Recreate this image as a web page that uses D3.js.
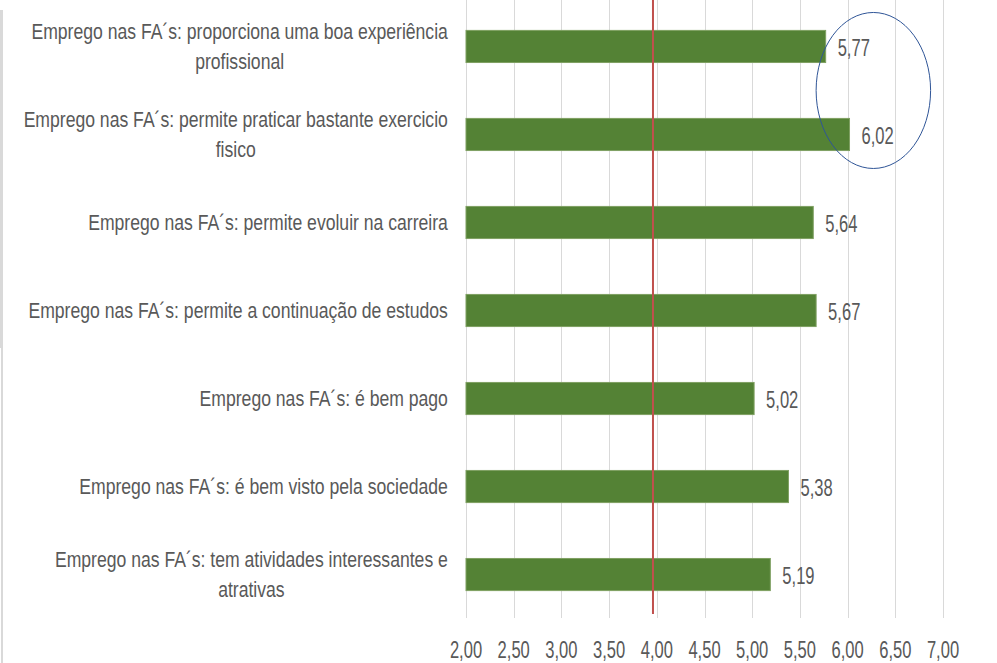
<!DOCTYPE html>
<meta charset="utf-8">
<style>
body { margin: 0; background: #fff; }
text { font-family: "Liberation Sans", Arial, sans-serif; fill: #595959; }
</style>
<svg width="997" height="663"></svg>
<script src="https://d3js.org/d3.v7.min.js"></script>
<script>

// data, top to bottom as in the chart
var categories = [
  ["Emprego nas FA\u00B4s: proporciona uma boa experiência", "profissional"],
  ["Emprego nas FA\u00B4s: permite praticar bastante exercicio", "fisico"],
  ["Emprego nas FA\u00B4s: permite evoluir na carreira"],
  ["Emprego nas FA\u00B4s: permite a continuação de estudos"],
  ["Emprego nas FA\u00B4s: é bem pago"],
  ["Emprego nas FA\u00B4s: é bem visto pela sociedade"],
  ["Emprego nas FA\u00B4s: tem atividades interessantes e", "atrativas"]
];
var values = [5.77, 6.02, 5.64, 5.67, 5.02, 5.38, 5.19];
var ticks = [2, 2.5, 3, 3.5, 4, 4.5, 5, 5.5, 6, 6.5, 7];
var refValue = 3.96;        // hand drawn red line, sits just left of 4,00
var ellipseCenter = 6.27;   // blue ellipse round the two top values

var svg = d3.select("svg"),
    left = 466, right = 943, top = 10, bottom = 618;

var fmt = function(v) { return d3.format(".2f")(v).replace(".", ","); };

// no narrow font installed, so squeeze the text horizontally (Calibri look)
function put(sel, k, fx, fy) {
  sel.attr("transform", function(d, i) {
    return "translate(" + fx(d, i) + "," + fy(d, i) + ") scale(" + k + ",1)";
  });
}

var x = d3.scaleLinear().domain([2, 7]).range([left, right]);
var y = d3.scaleBand()
    .domain(d3.range(categories.length))
    .range([4, 617])
    .paddingInner(0.635)
    .paddingOuter(0.3);

// grey strip on the left edge of the screenshot
svg.append("rect").attr("x", 0).attr("y", 10).attr("width", 3).attr("height", 338).attr("fill", "#d9d9d9");
svg.append("rect").attr("x", 1).attr("y", 348).attr("width", 2).attr("height", 315).attr("fill", "#d9d9d9");

// gridlines
svg.append("g")
  .selectAll("line")
  .data(ticks)
  .enter().append("line")
    .attr("x1", function(d) { return Math.round(x(d)) + 0.5; })
    .attr("x2", function(d) { return Math.round(x(d)) + 0.5; })
    .attr("y1", top)
    .attr("y2", bottom)
    .attr("stroke", "#d9d9d9")
    .attr("stroke-width", 1);

// tick labels
var tl = svg.append("g")
  .selectAll("text")
  .data(ticks)
  .enter().append("text")
    .attr("dy", "0.35em")
    .attr("text-anchor", "middle")
    .attr("font-size", 23)
    .text(fmt);
put(tl, 0.72, function(d) { return x(d); }, function() { return 650; });

// bars
svg.append("g")
  .selectAll("rect")
  .data(values)
  .enter().append("rect")
    .attr("x", x(2))
    .attr("y", function(d, i) { return y(i); })
    .attr("width", function(d) { return x(d) - x(2); })
    .attr("height", y.bandwidth())
    .attr("fill", "#548235")
    .attr("stroke", "#7fa062")
    .attr("stroke-width", 1);

// value labels
var vl = svg.append("g")
  .selectAll("text")
  .data(values)
  .enter().append("text")
    .attr("dy", "0.35em")
    .attr("font-size", 23)
    .text(fmt);
put(vl, 0.72, function(d) { return x(d) + 12; }, function(d, i) { return y(i) + y.bandwidth() / 2 + 1; });

// category labels, wrapped lines centred on each other, block right aligned
var squeeze = 0.8;
svg.append("g")
  .selectAll("g")
  .data(categories)
  .enter().append("g")
  .each(function(lines, i) {
    var g = d3.select(this);
    var cy = y(i) + y.bandwidth() / 2;
    var n = lines.length;
    var tx = g.selectAll("text")
      .data(lines)
      .enter().append("text")
        .attr("dy", "0.35em")
        .attr("font-size", 22)
        .attr("text-anchor", "middle")
        .text(function(d) { return d; });
    var w = d3.max(tx.nodes(), function(t) { return t.getComputedTextLength(); }) * squeeze;
    put(tx, squeeze, function() { return 448 - w / 2; }, function(d, j) { return cy + (j - (n - 1) / 2) * 30; });
  });

// reference line
svg.append("line")
    .attr("x1", x(refValue))
    .attr("x2", x(refValue))
    .attr("y1", top)
    .attr("y2", 614)
    .attr("stroke", "#c0504d")
    .attr("stroke-width", 2);

// blue ellipse
svg.append("ellipse")
    .attr("cx", x(ellipseCenter))
    .attr("cy", (y(0) + y(1) + y.bandwidth()) / 2)
    .attr("rx", x(ellipseCenter + 0.6) - x(ellipseCenter))
    .attr("ry", 78)
    .attr("fill", "none")
    .attr("stroke", "#2f5597")
    .attr("stroke-width", 1);

</script>
